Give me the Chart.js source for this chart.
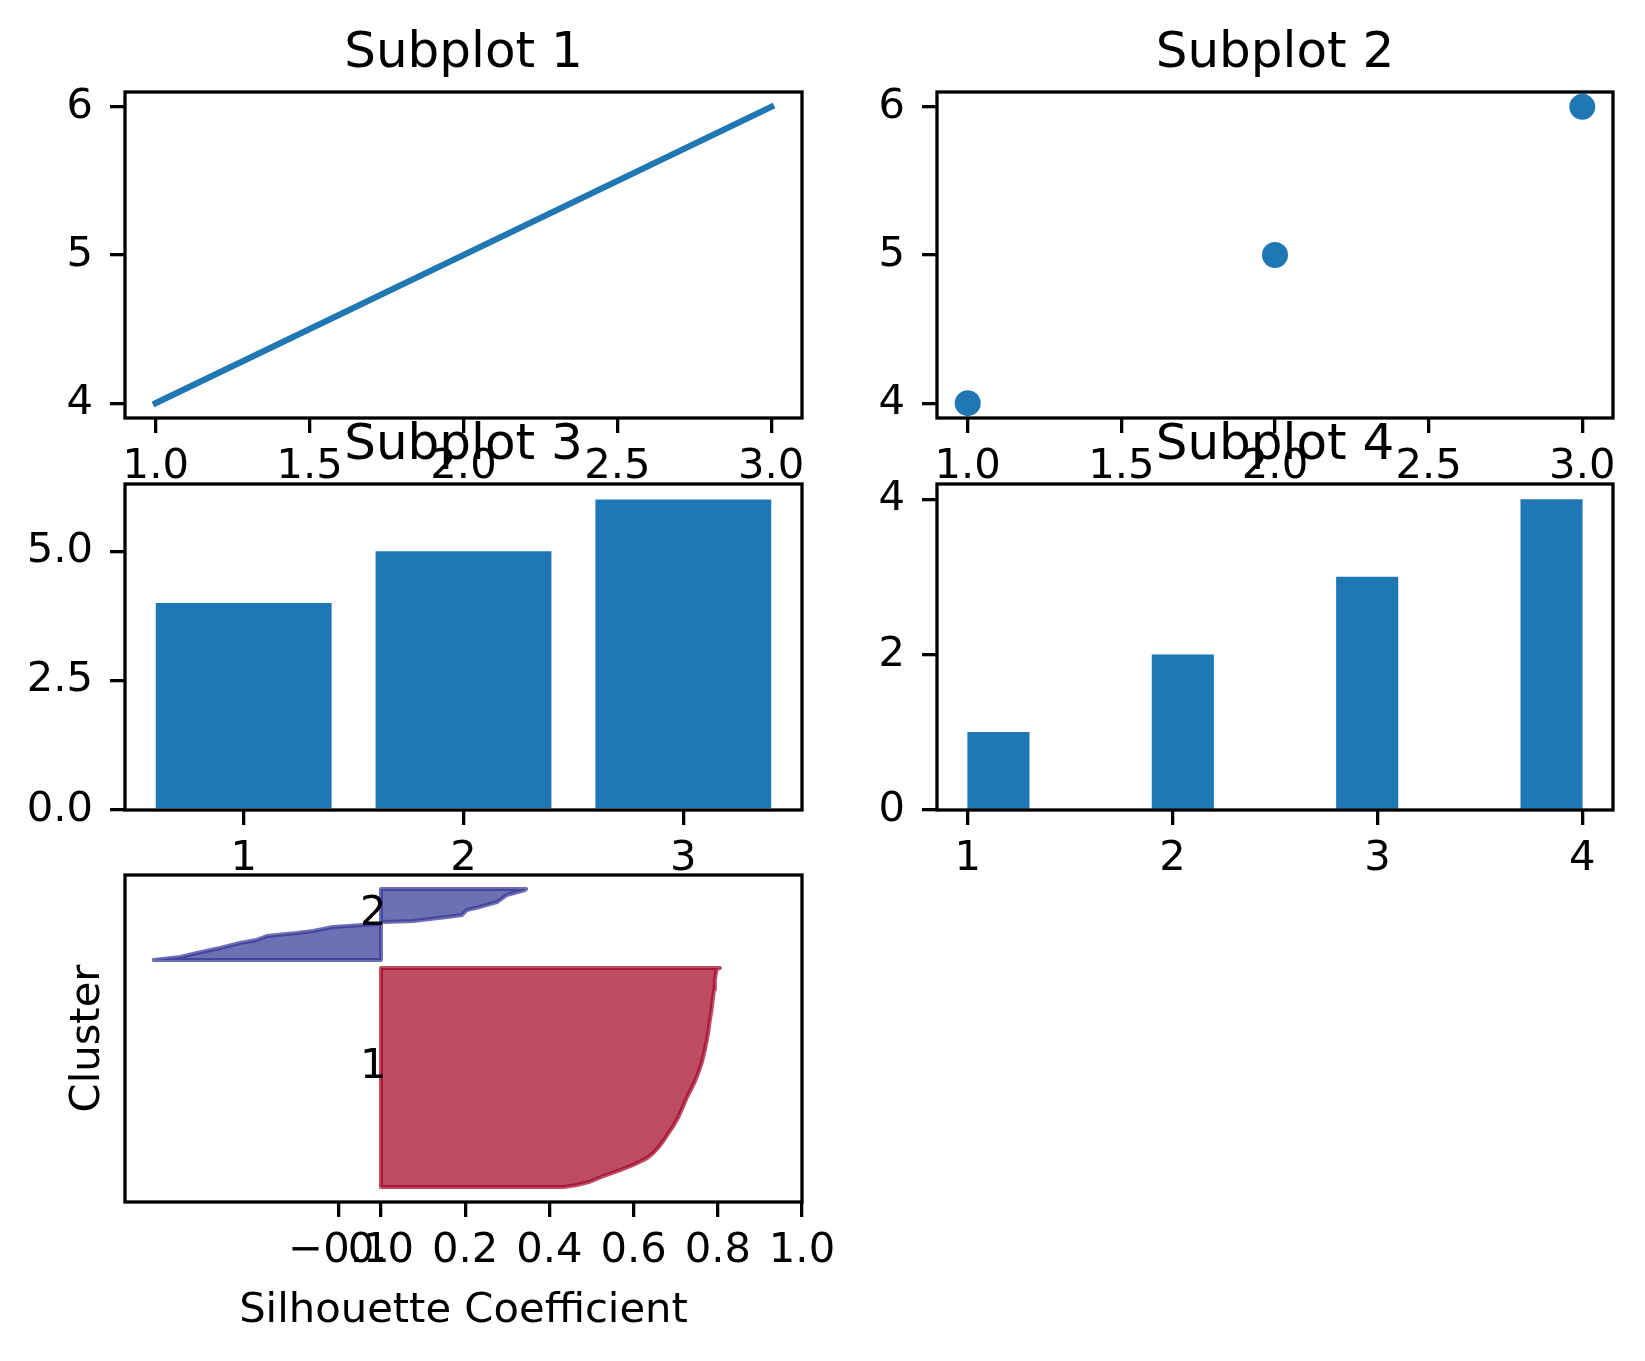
<!DOCTYPE html>
<html>
<head>
<meta charset="utf-8">
<script src="https://cdn.jsdelivr.net/npm/chart.js@4.4.1/dist/chart.umd.min.js"></script>
<style>
  html, body { margin: 0; padding: 0; background: #fff; }
  body { position: relative; width: 1645px; height: 1361px; overflow: hidden; }
  canvas { position: absolute; }
</style>
</head>
<body>
<canvas id="c1"></canvas>
<canvas id="c2"></canvas>
<canvas id="c3"></canvas>
<canvas id="c4"></canvas>
<canvas id="c5"></canvas>
<script>
// ── data ─────────────────────────────────────
const lineX    = [1, 2, 3];
const lineY    = [4, 5, 6];
const scatterX = [1, 2, 3];
const scatterY = [4, 5, 6];
const barCats  = [1, 2, 3];
const barVals  = [4, 5, 6];
const histEdges  = [1.0, 1.3, 1.6, 1.9, 2.2, 2.5, 2.8, 3.1, 3.4, 3.7, 4.0];
const histCounts = [1, 0, 0, 2, 0, 0, 3, 0, 0, 4];

const xTicks12  = [1, 1.5, 2, 2.5, 3];
const yTicks12  = [4, 5, 6];
const xTicks3   = [1, 2, 3];
const yTicks3   = [0, 2.5, 5];
const xTicks4   = [1, 2, 3, 4];
const yTicks4   = [0, 2, 4];
const silTicks  = [-0.1, 0, 0.2, 0.4, 0.6, 0.8, 1.0];

// silhouette values (sorted) against sample position
const clusterLabels = ['1', '2'];
const cluster1Pos = [10, 11.3, 13.5, 17.3, 21.3, 24.7, 29.1, 32.5, 36.4, 40.5, 44.7, 50.5, 57, 63.5, 70, 75, 80, 86.5, 93, 100, 108, 114.5, 121, 128, 135, 141.5, 148, 155, 156];
const cluster1Val = [0.434, 0.465, 0.496, 0.528, 0.568, 0.599, 0.631, 0.646, 0.659, 0.670, 0.68, 0.694, 0.707, 0.717, 0.727, 0.736, 0.745, 0.754, 0.762, 0.768, 0.774, 0.778, 0.781, 0.785, 0.788, 0.791, 0.793, 0.797, 0.805];
const cluster2Pos = [161.3, 163.3, 166, 169.3, 172.7, 174.7, 177.3, 179.3, 180.7, 183.3, 184.7, 185.3, 186.7, 187.3, 190, 191.3, 194.7, 196.7, 200, 204.7, 208, 208.7];
const cluster2Val = [-0.54, -0.477, -0.437, -0.382, -0.335, -0.295, -0.271, -0.2, -0.161, -0.114, -0.043, -0.007, 0.005, 0.076, 0.157, 0.192, 0.204, 0.235, 0.276, 0.299, 0.342, 0.345];
const clusterTextX = -0.05;

// ── look ─────────────────────────────────────
const BLUE  = '#1f77b4';
const TICK  = 41.7;
const TITLE = 50;
const LW    = 3.3;
const PADL = 125, PADT = 68, PADB = 140, PADR = 125;

Chart.defaults.font.family = "'DejaVu Sans', sans-serif";
Chart.defaults.color = '#000';
Chart.defaults.animation = false;

const f0 = v => String(v);
const f1 = v => v.toFixed(1);
const fSil = v => (v < 0 ? '\u2212' : '') + Math.abs(v).toFixed(1);

function place(id, box, padT) {
  const cv = document.getElementById(id);
  cv.width  = box.r - box.l + PADL + PADR;
  cv.height = box.b - box.t + padT + PADB;
  cv.style.left = (box.l - PADL) + 'px';
  cv.style.top  = (box.t - padT) + 'px';
  return cv;
}

function tickGrid(show) {
  return { display: show, offset: false, drawOnChartArea: false, drawTicks: true,
           tickLength: 15, tickWidth: LW, lineWidth: LW, tickColor: '#000' };
}

function xAxis(min, max, ticks, fmt, title) {
  return {
    type: 'linear', min, max, offset: false,
    afterBuildTicks: s => { s.ticks = ticks.map(v => ({ value: v })); },
    afterFit: s => { s.height = PADB; },
    ticks: { callback: fmt, autoSkip: false, maxRotation: 0, minRotation: 0, padding: 9, font: { size: TICK } },
    grid: tickGrid(true),
    border: { display: false },
    title: title ? { display: true, text: title, font: { size: TICK }, padding: { top: 0, bottom: 6 } } : { display: false }
  };
}

function yAxis(min, max, ticks, fmt, title) {
  return {
    type: 'linear', min, max, offset: false,
    afterBuildTicks: s => { if (ticks) s.ticks = ticks.map(v => ({ value: v })); },
    afterFit: s => { s.width = PADL; },
    ticks: { display: !!ticks, callback: fmt, autoSkip: false, padding: 17, font: { size: TICK } },
    grid: tickGrid(!!ticks),
    border: { display: false },
    title: title ? { display: true, text: title, font: { size: TICK }, padding: { top: 63, bottom: 0 } } : { display: false }
  };
}

function titleOpt(text) {
  return { display: true, text, fullSize: false, color: '#000', font: { size: TITLE, weight: 'normal' }, padding: { top: 0, bottom: 8 } };
}

const frame = {
  id: 'frame',
  afterDatasetsDraw(chart) {
    const a = chart.chartArea, ctx = chart.ctx;
    ctx.save();
    ctx.strokeStyle = '#000';
    ctx.lineWidth = LW;
    ctx.strokeRect(a.left, a.top, a.right - a.left, a.bottom - a.top);
    ctx.restore();
  }
};
Chart.register(frame);

const base = (titleText) => ({
  responsive: false,
  layout: { padding: { left: 0, right: PADR, top: titleText ? 0 : 40, bottom: 0 } },
  plugins: { legend: { display: false }, tooltip: { enabled: false }, title: titleText ? titleOpt(titleText) : { display: false } }
});

// ── Subplot 1: line ──────────────────────────
const box1 = { l: 125, t: 92, r: 802, b: 418 };
new Chart(place('c1', box1, PADT), {
  type: 'scatter',
  data: { datasets: [{
    data: lineX.map((x, i) => ({ x, y: lineY[i] })),
    showLine: true, borderColor: BLUE, borderWidth: 6.25, borderCapStyle: 'square',
    pointRadius: 0, fill: false
  }] },
  options: Object.assign(base('Subplot 1'), {
    scales: { x: xAxis(0.9, 3.1, xTicks12, f1), y: yAxis(3.9, 6.1, yTicks12, f0) }
  })
});

// ── Subplot 2: scatter ───────────────────────
const box2 = { l: 937, t: 92, r: 1613, b: 418 };
new Chart(place('c2', box2, PADT), {
  type: 'scatter',
  data: { datasets: [{
    data: scatterX.map((x, i) => ({ x, y: scatterY[i] })),
    pointRadius: 13, pointBackgroundColor: BLUE, pointBorderWidth: 0, clip: false
  }] },
  options: Object.assign(base('Subplot 2'), {
    scales: { x: xAxis(0.9, 3.1, xTicks12, f1), y: yAxis(3.9, 6.1, yTicks12, f0) }
  })
});

// ── Subplot 3: bar ───────────────────────────
const box3 = { l: 125, t: 484, r: 802, b: 810 };
new Chart(place('c3', box3, PADT), {
  type: 'bar',
  data: { datasets: [{
    data: barCats.map((x, i) => ({ x, y: barVals[i] })),
    backgroundColor: BLUE, borderWidth: 0, barPercentage: 0.8, categoryPercentage: 1
  }] },
  options: Object.assign(base('Subplot 3'), {
    scales: { x: xAxis(0.46, 3.54, xTicks3, f0), y: yAxis(0, 6.3, yTicks3, f1) }
  })
});

// ── Subplot 4: histogram ─────────────────────
const box4 = { l: 937, t: 484, r: 1613, b: 810 };
new Chart(place('c4', box4, PADT), {
  type: 'bar',
  data: { datasets: [{
    data: histCounts.map((c, i) => ({ x: (histEdges[i] + histEdges[i + 1]) / 2, y: c })),
    backgroundColor: BLUE, borderWidth: 0, barPercentage: 1, categoryPercentage: 1
  }] },
  options: Object.assign(base('Subplot 4'), {
    scales: { x: xAxis(0.85, 4.15, xTicks4, f0), y: yAxis(0, 4.2, yTicks4, f0) }
  })
});

// ── Subplot 5: silhouette ────────────────────
const clusters = [
  { label: clusterLabels[0], pos: cluster1Pos, val: cluster1Val, fill: 'rgba(162,0,35,0.7)' },
  { label: clusterLabels[1], pos: cluster2Pos, val: cluster2Val, fill: 'rgba(48,51,148,0.7)' }
];
function silShape(pos, val) {
  const pts = [{ x: 0, y: pos[0] }];
  pos.forEach((p, i) => pts.push({ x: val[i], y: p }));
  pts.push({ x: 0, y: pos[pos.length - 1] });
  pts.push({ x: 0, y: pos[0] });
  return pts;
}
const clusterText = {
  id: 'clusterText',
  afterDatasetsDraw(chart) {
    const { ctx, scales: { x, y } } = chart;
    ctx.save();
    ctx.fillStyle = '#000';
    ctx.font = TICK + "px 'DejaVu Sans'";
    ctx.textAlign = 'left';
    ctx.textBaseline = 'alphabetic';
    clusters.forEach(c => {
      const mid = (c.pos[0] + c.pos[c.pos.length - 1]) / 2;
      ctx.fillText(c.label, x.getPixelForValue(clusterTextX), y.getPixelForValue(mid));
    });
    ctx.restore();
  }
};
const box5 = { l: 125, t: 875, r: 802, b: 1202 };
new Chart(place('c5', box5, 40), {
  type: 'scatter',
  data: { datasets: clusters.map(c => ({
    data: silShape(c.pos, c.val),
    showLine: true, fill: 'shape', tension: 0,
    backgroundColor: c.fill, borderColor: c.fill, borderWidth: 4, borderJoinStyle: 'round',
    pointRadius: 0
  })) },
  options: Object.assign(base(null), {
    scales: { x: xAxis(-0.608, 1.0, silTicks, fSil, 'Silhouette Coefficient'), y: yAxis(0, 218, null, f0, 'Cluster') }
  }),
  plugins: [clusterText]
});
</script>
</body>
</html>
